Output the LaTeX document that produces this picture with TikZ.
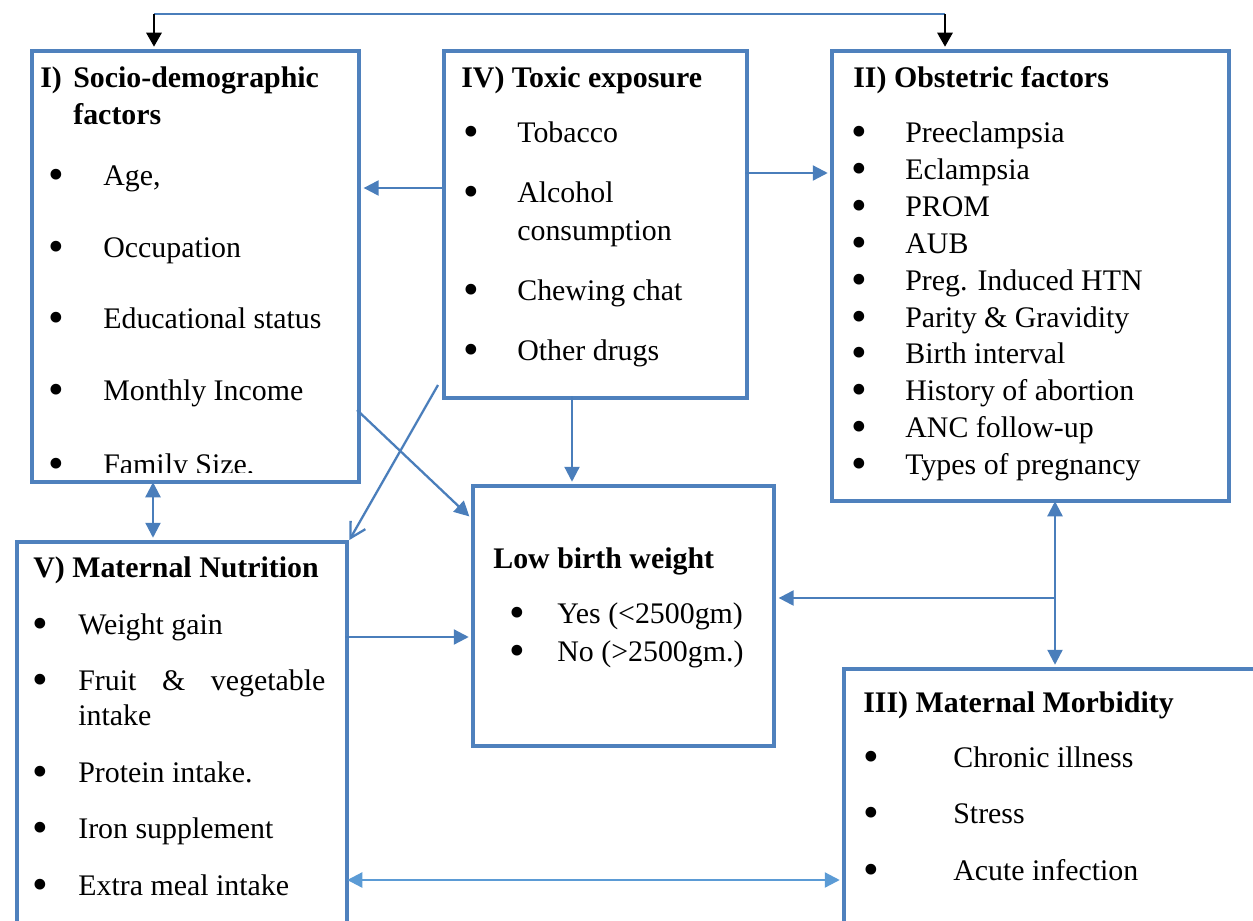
\documentclass[tikz,border=0pt]{standalone}
\usepackage{fontspec}
\setmainfont{Liberation Serif}
\usetikzlibrary{arrows.meta}
\definecolor{boxblue}{HTML}{4F81BD}
\definecolor{lineblue}{HTML}{4A7EBB}
\definecolor{lightblue}{HTML}{5B9BD5}
\newcommand{\bulletitem}[2]{\makebox[#1][l]{\smash{\raisebox{-0.14em}{\scalebox{1.5}{\textbullet}}}}#2}

\begin{document}
\begin{tikzpicture}[
    box/.style={draw=boxblue, line width=2.5pt, inner sep=0pt, anchor=north west},
    txt/.style={anchor=base west, inner sep=0pt, font=\fontsize{17}{20}\selectfont},
    head/.style={anchor=base west, inner sep=0pt, font=\fontsize{17}{20}\selectfont\bfseries},
    arr/.style={draw=lineblue, line width=1.3pt, -{Triangle[length=0.3cm, width=0.3cm]}, shorten >=0.045cm},
    darr/.style={draw=lineblue, line width=1.3pt, {Triangle[length=0.3cm, width=0.3cm]}-{Triangle[length=0.3cm, width=0.3cm]}, shorten >=0.045cm, shorten <=0.045cm}
]
    \useasboundingbox (0, 0) rectangle (25.06, -18.42);

    % Boxes
    \node[box, minimum width=6.54cm, minimum height=8.62cm] (socio) at (0.60, -0.98) {};
    \node[box, minimum width=6.06cm, minimum height=6.94cm] (toxic) at (8.84, -0.98) {};
    \node[box, minimum width=7.94cm, minimum height=9.00cm] (obst) at (16.60, -0.98) {};
    \node[box, minimum width=6.02cm, minimum height=5.20cm] (lbw) at (9.42, -9.68) {};
    \node[box, minimum width=6.60cm, minimum height=8.50cm] (nutri) at (0.30, -10.80) {};
    \node[box, minimum width=9.00cm, minimum height=6.00cm] (morb) at (16.84, -13.34) {};

    % I) Socio-demographic factors
    \node[head] (socio-num) at (0.80, -1.74) {I)};
    \node[head] (socio-head) at (1.46, -1.74) {Socio-demographic};
    \node[head] (socio-head2) at (1.46, -2.48) {factors};
    \node[txt] (socio-a) at (0.97, -3.70) {\bulletitem{1.09cm}{Age,}};
    \node[txt] (socio-b) at (0.97, -5.14) {\bulletitem{1.09cm}{Occupation}};
    \node[txt] (socio-c) at (0.97, -6.56) {\bulletitem{1.09cm}{Educational status}};
    \node[txt] (socio-d) at (0.97, -8.00) {\bulletitem{1.09cm}{Monthly Income}};
    \begin{scope}
        \clip (0.70, -1.00) rectangle (7.10, -9.44);
        \node[txt] (socio-e) at (0.97, -9.48) {\bulletitem{1.09cm}{Family Size,}};
    \end{scope}

    % IV) Toxic exposure
    \node[head] (toxic-head) at (9.22, -1.74) {IV) Toxic exposure};
    \node[txt] (toxic-a) at (9.27, -2.84) {\bulletitem{1.07cm}{Tobacco}};
    \node[txt] (toxic-b) at (9.27, -4.04) {\bulletitem{1.07cm}{Alcohol}};
    \node[txt] (toxic-b2) at (10.34, -4.80) {consumption};
    \node[txt] (toxic-c) at (9.27, -6.00) {\bulletitem{1.07cm}{Chewing chat}};
    \node[txt] (toxic-d) at (9.27, -7.20) {\bulletitem{1.07cm}{Other drugs}};

    % II) Obstetric factors
    \node[head] (obst-head) at (17.06, -1.74) {II) Obstetric factors};
    \node[txt] (obst-a) at (17.03, -2.84) {\bulletitem{1.07cm}{Preeclampsia}};
    \node[txt] (obst-b) at (17.03, -3.58) {\bulletitem{1.07cm}{Eclampsia}};
    \node[txt] (obst-c) at (17.03, -4.32) {\bulletitem{1.07cm}{PROM}};
    \node[txt] (obst-d) at (17.03, -5.06) {\bulletitem{1.07cm}{AUB}};
    \node[txt] (obst-e) at (17.03, -5.80) {\bulletitem{1.07cm}{Preg. Induced HTN}};
    \node[txt] (obst-f) at (17.03, -6.54) {\bulletitem{1.07cm}{Parity \& Gravidity}};
    \node[txt] (obst-g) at (17.03, -7.26) {\bulletitem{1.07cm}{Birth interval}};
    \node[txt] (obst-h) at (17.03, -8.00) {\bulletitem{1.07cm}{History of abortion}};
    \node[txt] (obst-i) at (17.03, -8.74) {\bulletitem{1.07cm}{ANC follow-up}};
    \node[txt] (obst-j) at (17.03, -9.48) {\bulletitem{1.07cm}{Types of pregnancy}};

    % Low birth weight
    \node[head] (lbw-head) at (9.86, -11.36) {Low birth weight};
    \node[txt] (lbw-a) at (10.19, -12.46) {\bulletitem{0.95cm}{Yes (<2500gm)}};
    \node[txt] (lbw-b) at (10.19, -13.22) {\bulletitem{0.95cm}{No (>2500gm.)}};

    % V) Maternal Nutrition
    \node[head] (nutri-head) at (0.66, -11.54) {V) Maternal Nutrition};
    \node[txt] (nutri-a) at (0.65, -12.68) {\bulletitem{0.91cm}{Weight gain}};
    \node[txt] (nutri-b) at (0.65, -13.80) {\bulletitem{0.91cm}{\makebox[4.94cm][s]{Fruit \& vegetable}}};
    \node[txt] (nutri-b2) at (1.56, -14.50) {intake};
    \node[txt] (nutri-c) at (0.65, -15.64) {\bulletitem{0.91cm}{Protein intake.}};
    \node[txt] (nutri-d) at (0.65, -16.76) {\bulletitem{0.91cm}{Iron supplement}};
    \node[txt] (nutri-e) at (0.65, -17.90) {\bulletitem{0.91cm}{Extra meal intake}};

    % III) Maternal Morbidity
    \node[head] (morb-head) at (17.26, -14.24) {III) Maternal Morbidity};
    \node[txt] (morb-a) at (17.27, -15.34) {\bulletitem{1.79cm}{Chronic illness}};
    \node[txt] (morb-b) at (17.27, -16.46) {\bulletitem{1.79cm}{Stress}};
    \node[txt] (morb-c) at (17.27, -17.60) {\bulletitem{1.79cm}{Acute infection}};

    % Connector end points
    \coordinate (top-l) at (3.08, -0.28);
    \coordinate (top-r) at (18.90, -0.28);
    \coordinate (ts) at (8.84, -3.76);
    \coordinate (to) at (14.90, -3.46);
    \coordinate (tl) at (11.44, -7.92);
    \coordinate (sl) at (7.14, -8.20);
    \coordinate (sl-end) at (9.42, -10.36);
    \coordinate (tn) at (8.76, -7.70);
    \coordinate (sn) at (3.06, -9.60);
    \coordinate (nl) at (6.90, -12.74);
    \coordinate (om) at (21.10, -9.98);
    \coordinate (ml) at (21.10, -11.96);
    \coordinate (nm) at (6.90, -17.60);

    % Top link between I and II
    \draw[lineblue, line width=1.3pt] (top-l) -- (top-r);
    \draw[black, line width=1.6pt, -{Triangle[length=0.28cm, width=0.3cm]}, shorten >=0.045cm] (top-l) -- (top-l |- socio.north);
    \draw[black, line width=1.6pt, -{Triangle[length=0.28cm, width=0.3cm]}, shorten >=0.045cm] (top-r) -- (top-r |- obst.north);

    % Arrows out of IV
    \draw[arr] (ts) -- (ts -| socio.east);
    \draw[arr] (to) -- (to -| obst.west);
    \draw[arr] (tl) -- (tl |- lbw.north);
    \draw[draw=lineblue, line width=1.3pt, -{Straight Barb[length=0.3cm, width=0.34cm]}] (tn) -- (nutri.north east);

    % Arrows into low birth weight
    \draw[arr] (sl) -- (sl-end);
    \draw[arr] (nl) -- (nl -| lbw.west);
    \draw[arr] (ml) -- (ml -| lbw.east);

    % Two-way arrows
    \draw[darr] (sn) -- (sn |- nutri.north);
    \draw[darr] (om) -- (om |- morb.north);
    \draw[darr, draw=lightblue, lightblue] (nm) -- (nm -| morb.west);
\end{tikzpicture}
\end{document}
